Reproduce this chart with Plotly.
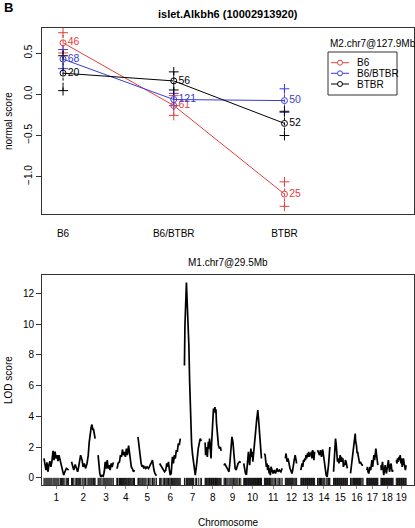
import plotly.graph_objects as go

# ---------------- top panel data (effect plot) ----------------
m1_genotypes = ["B6", "B6/BTBR", "BTBR"]          # x categories (M1.chr7@29.5Mb)
m2_genotypes = ["B6", "B6/BTBR", "BTBR"]          # groups (M2.chr7@127.9Mb)
mean_b6 = [0.625, -0.137, -1.213]
mean_het = [0.427, -0.064, -0.077]
mean_btbr = [0.256, 0.162, -0.354]
se_b6 = [0.123, 0.120, 0.149]
se_het = [0.116, 0.075, 0.143]
se_btbr = [0.212, 0.110, 0.147]
n_b6 = [46, 61, 25]
n_het = [68, 121, 50]
n_btbr = [20, 56, 52]
group_colors = ["#E5403B", "#3B3BD9", "#000000"]

# ---------------- bottom panel data (LOD scan) ----------------
chrom_names = [str(i) for i in range(1, 20)]
chrom_len = [100, 96, 64, 74, 76, 86, 72, 68, 68, 72, 72, 52, 56, 52, 56, 56, 46, 50, 40]
chrom_gap = 12

chr1_pos = [0, 4, 8, 12, 16, 20, 24, 28, 32, 37, 41, 45, 49, 53, 57, 61, 67, 71, 75, 80, 85, 91, 96, 100]
chr1_lod = [1.26, 0.93, 0.50, 1.00, 0.39, 0.82, 1.08, 0.71, 1.04, 1.75, 1.15, 1.70, 1.26, 1.47, 1.08, 1.47, 1.00, 0.71, 0.39, 0.17, 0.39, 0.61, 0.56, 0.50]
chr2_pos = [0, 4, 9, 15, 20, 25, 29, 33, 37, 43, 47, 52, 57, 63, 68, 72, 76, 80, 83, 87, 89, 93, 96]
chr2_lod = [1.04, 0.71, 0.50, 0.87, 0.61, 0.39, 0.71, 1.04, 1.47, 1.15, 0.71, 0.93, 0.61, 0.93, 1.47, 2.34, 3.10, 3.30, 3.46, 3.10, 3.20, 2.77, 2.55]
chr3_pos = [0, 3, 7, 11, 16, 21, 25, 29, 33, 37, 41, 45, 49, 53, 57, 62]
chr3_lod = [1.47, 0.93, 0.28, 0.06, 0.15, 0.10, 0.39, 1.04, 0.60, 1.15, 0.60, 0.82, 0.50, 0.93, 0.70, 1.00]
chr4_pos = [0, 3, 5, 11, 15, 19, 23, 27, 31, 35, 39, 43, 48, 51, 55, 59, 63, 68, 72]
chr4_lod = [0.60, 0.71, 0.93, 1.04, 1.47, 1.36, 1.84, 1.47, 1.69, 1.36, 1.90, 1.47, 2.10, 1.58, 1.04, 0.71, 0.60, 0.39, 0.50]
chr5_pos = [0, 3, 5, 9, 13, 17, 20, 24, 28, 32, 37, 43, 48, 53, 59, 61, 65, 69, 75]
chr5_lod = [2.66, 2.20, 1.69, 1.36, 0.93, 0.71, 0.82, 0.61, 0.71, 0.60, 0.71, 0.60, 0.82, 0.93, 1.15, 0.82, 0.50, 0.28, 0.13]
chr6_pos = [0, 4, 9, 15, 20, 25, 29, 33, 36, 39, 43, 47, 49, 52, 56, 60, 64, 68, 72, 76, 80, 84]
chr6_lod = [0.93, 0.82, 0.61, 0.50, 0.39, 0.50, 0.93, 0.71, 1.04, 0.61, 0.17, 0.28, 0.71, 1.36, 0.93, 1.47, 1.26, 1.80, 1.69, 2.23, 2.12, 2.55]
chr7_pos = [3, 5, 11, 15, 18, 21, 24, 28, 32, 36, 40, 47, 52, 59, 67, 72]
chr7_lod = [7.30, 9.90, 12.70, 10.90, 10.80, 8.60, 6.30, 3.50, 2.20, 1.50, 0.90, 0.17, 0.80, 1.90, 2.55, 2.40]
chr8_pos = [3, 5, 9, 12, 16, 19, 21, 24, 27, 29, 32, 35, 37, 40, 43, 45, 47, 49, 53, 57, 61, 65, 68]
chr8_lod = [2.30, 1.47, 2.00, 1.36, 2.34, 1.90, 2.55, 1.47, 1.26, 2.12, 3.00, 3.85, 4.50, 4.30, 4.60, 4.20, 4.45, 3.60, 2.55, 2.12, 1.90, 2.00, 1.75]
chr9_pos = [0, 3, 6, 9, 15, 20, 24, 28, 32, 36, 39, 41, 45, 49, 53, 57, 63, 68]
chr9_lod = [0.80, 0.93, 0.82, 0.71, 0.60, 0.39, 1.04, 2.34, 2.66, 2.34, 1.69, 1.04, 0.61, 0.50, 0.82, 0.93, 1.04, 1.00]
chr10_pos = [0, 3, 7, 11, 13, 16, 19, 21, 24, 27, 29, 32, 35, 37, 40, 43, 45, 48, 51, 53, 56, 57, 60, 63, 65, 68, 71, 72]
chr10_lod = [0.93, 0.61, 0.28, 0.20, 0.60, 1.15, 1.69, 1.26, 0.82, 1.47, 1.90, 1.36, 1.69, 1.04, 1.69, 1.90, 2.55, 3.00, 3.42, 3.85, 4.20, 4.40, 3.85, 3.00, 2.34, 2.00, 1.47, 1.25]
chr11_pos = [0, 3, 5, 8, 11, 13, 16, 19, 21, 24, 27, 31, 35, 40, 45, 51, 56, 61, 67, 72]
chr11_lod = [1.58, 1.47, 1.15, 0.71, 0.93, 0.50, 0.82, 0.28, 0.61, 0.17, 0.71, 0.39, 0.28, 0.50, 0.28, 0.61, 0.39, 0.50, 0.39, 0.61]
chr12_pos = [1, 4, 7, 9, 12, 15, 17, 20, 23, 25, 28, 31, 33, 37, 41, 44, 47]
chr12_lod = [1.26, 1.58, 1.15, 1.04, 1.26, 0.93, 0.82, 0.61, 0.50, 0.39, 0.28, 0.50, 0.82, 1.15, 1.47, 1.26, 0.93]
chr13_pos = [0, 3, 5, 8, 11, 13, 16, 19, 21, 24, 27, 29, 32, 35, 37, 40, 43, 45, 48, 51, 53, 56]
chr13_lod = [0.50, 0.82, 0.93, 0.71, 1.15, 1.04, 1.26, 1.15, 1.47, 1.26, 1.58, 1.36, 1.69, 1.36, 1.58, 1.47, 1.69, 1.26, 1.80, 1.58, 1.15, 1.69]
chr14_pos = [0, 3, 8, 12, 16, 21, 25, 29, 35, 39, 43, 45, 48, 50]
chr14_lod = [1.80, 1.69, 1.47, 1.80, 1.36, 1.84, 1.26, 0.71, 0.17, 0.06, 0.50, 0.90, 1.60, 2.00]
chr15_pos = [1, 4, 7, 9, 12, 15, 17, 20, 23, 25, 28, 31, 33, 36, 39, 41, 44, 47, 49, 52, 55, 57]
chr15_lod = [0.39, 1.04, 1.90, 2.55, 2.12, 1.36, 1.04, 1.26, 0.93, 1.15, 1.47, 1.04, 1.36, 1.04, 1.26, 0.71, 0.93, 0.82, 1.15, 1.04, 0.71, 0.61]
chr16_pos = [2, 5, 9, 13, 15, 18, 21, 23, 26, 29, 31, 34, 37, 39, 42, 45, 49, 53]
chr16_lod = [0.28, 0.71, 1.26, 1.90, 2.34, 2.55, 2.88, 2.34, 2.12, 1.58, 1.69, 1.36, 1.15, 0.93, 1.04, 0.93, 0.82, 0.82]
chr17_pos = [0, 3, 5, 8, 11, 13, 16, 19, 21, 24, 27, 29, 32, 35, 37, 40, 43, 45]
chr17_lod = [0.50, 0.71, 0.39, 0.28, 0.50, 0.71, 0.50, 0.93, 1.15, 0.71, 1.04, 1.47, 1.15, 1.58, 1.90, 1.47, 0.93, 0.82]
chr18_pos = [0, 1, 3, 6, 9, 11, 14, 17, 19, 22, 25, 27, 30, 33, 35, 38, 41, 43, 46, 49]
chr18_lod = [0.82, 0.50, 0.71, 1.04, 0.50, 0.17, 0.50, 0.82, 0.50, 0.28, 0.61, 0.82, 1.15, 0.61, 0.39, 0.82, 0.93, 0.61, 0.39, 0.50]
chr19_pos = [0, 3, 5, 8, 11, 13, 16, 19, 21, 24, 27, 29, 32, 35, 37, 40]
chr19_lod = [1.15, 0.93, 1.26, 1.04, 1.36, 1.15, 1.47, 0.93, 1.26, 0.71, 1.04, 1.26, 0.93, 0.61, 0.50, 0.82]

lod_tick_vals = [0, 2, 4, 6, 8, 10, 12]
eff_tick_vals = [-1.0, -0.5, 0.0, 0.5]
eff_tick_text = ["\u22121.0", "\u22120.5", "0.0", "0.5"]

# ---------------- layout geometry ----------------
W, H = 415, 528
ML, MR, MT, MB = 42, 1, 28, 43
PW, PH = W - ML - MR, H - MT - MB
FONT = "Liberation Sans, Arial, Helvetica, sans-serif"
AXC = "#333333"


def px_x(px):
    return (px - ML) / PW


def px_y(py):
    return (MT + PH - py) / PH


top_dom = [px_y(214), 1.0]
bot_dom = [0.0, px_y(275)]

fig = go.Figure()

# ---------------- top panel traces ----------------
means = [mean_b6, mean_het, mean_btbr]
ses = [se_b6, se_het, se_btbr]
counts = [n_b6, n_het, n_btbr]
for gi in range(3):
    col = group_colors[gi]
    ex, ey = [], []
    for c, mu, se in zip(m1_genotypes, means[gi], ses[gi]):
        ex += [c, c, None]
        ey += [mu - se, mu + se, None]
    fig.add_trace(go.Scatter(
        x=ex, y=ey, mode="lines+markers", xaxis="x", yaxis="y",
        line=dict(color=col, width=1, dash="3px,2px"),
        marker=dict(symbol="cross-thin", size=7, color=col, line=dict(color=col, width=1)),
        showlegend=False, hoverinfo="skip"))
for gi in range(3):
    col = group_colors[gi]
    fig.add_trace(go.Scatter(
        x=m1_genotypes, y=means[gi], mode="lines+markers+text", xaxis="x", yaxis="y",
        name=m2_genotypes[gi],
        text=[str(v) for v in counts[gi]], textposition="middle right",
        textfont=dict(color=col, size=10.5, family=FONT),
        line=dict(color=col, width=1),
        marker=dict(symbol="circle-open", size=6, color=col, line=dict(color=col, width=1)),
        showlegend=False, hoverinfo="skip"))

# ---------------- bottom panel traces ----------------
chr_pos = [chr1_pos, chr2_pos, chr3_pos, chr4_pos, chr5_pos, chr6_pos, chr7_pos, chr8_pos, chr9_pos,
           chr10_pos, chr11_pos, chr12_pos, chr13_pos, chr14_pos, chr15_pos, chr16_pos, chr17_pos,
           chr18_pos, chr19_pos]
chr_lod = [chr1_lod, chr2_lod, chr3_lod, chr4_lod, chr5_lod, chr6_lod, chr7_lod, chr8_lod, chr9_lod,
           chr10_lod, chr11_lod, chr12_lod, chr13_lod, chr14_lod, chr15_lod, chr16_lod, chr17_lod,
           chr18_lod, chr19_lod]

offsets = []
acc = 0
for L in chrom_len:
    offsets.append(acc)
    acc += L + chrom_gap
genome_end = offsets[-1] + chrom_len[-1]
centers = [o + L / 2 for o, L in zip(offsets, chrom_len)]

lx, ly, rug = [], [], []
for off, ps, ls in zip(offsets, chr_pos, chr_lod):
    lx += [off + p for p in ps] + [None]
    ly += ls + [None]
    rug += [off + p for p in ps]

fig.add_trace(go.Scatter(x=lx, y=ly, mode="lines", xaxis="x2", yaxis="y2",
                         line=dict(color="black", width=1.7), showlegend=False, hoverinfo="skip"))
fig.add_trace(go.Scatter(x=rug, y=[-0.28] * len(rug), mode="markers", xaxis="x2", yaxis="y2",
                         marker=dict(symbol="line-ns", size=6, color="#111", line=dict(color="#111", width=1)),
                         showlegend=False, hoverinfo="skip"))

axis_common = dict(showline=True, mirror=True, linecolor=AXC, linewidth=1, showgrid=False,
                   zeroline=False, tickfont=dict(size=10, family=FONT, color="black"))

span = genome_end
fig.update_layout(
    width=W, height=H, margin=dict(l=ML, r=MR, t=MT, b=MB),
    paper_bgcolor="white", plot_bgcolor="white",
    font=dict(family=FONT, color="black"),
    showlegend=False,
    xaxis=dict(axis_common, domain=[0, 1], anchor="y", type="category",
               categoryorder="array", categoryarray=m1_genotypes,
               range=[-0.19, 3.17], ticks="", ticklabelstandoff=10),
    yaxis=dict(axis_common, domain=top_dom, anchor="x", range=[-1.455, 0.805],
               tickvals=eff_tick_vals, ticktext=eff_tick_text, tickangle=-90,
               ticks="outside", ticklen=5, tickcolor=AXC),
    xaxis2=dict(axis_common, domain=[0, 1], anchor="y2",
                range=[-8, span + 32], tickvals=centers, ticktext=chrom_names,
                ticks="outside", ticklen=3, tickcolor="#888"),
    yaxis2=dict(axis_common, domain=bot_dom, anchor="x2", range=[-0.47, 13.19],
                tickvals=lod_tick_vals, ticks="outside", ticklen=5, tickcolor=AXC),
)

ann = []
ann.append(dict(text="<b>islet.Alkbh6 (10002913920)</b>", x=px_x(228), y=px_y(14),
                xref="paper", yref="paper", showarrow=False, xanchor="center", yanchor="middle",
                font=dict(size=11, family=FONT)))
ann.append(dict(text="<b>B</b>", x=px_x(2), y=px_y(8), xref="paper", yref="paper",
                showarrow=False, xanchor="left", yanchor="middle", font=dict(size=13, family=FONT)))
ann.append(dict(text="M1.chr7@29.5Mb", x=px_x(228), y=px_y(262), xref="paper", yref="paper",
                showarrow=False, xanchor="center", yanchor="middle", font=dict(size=10, family=FONT)))
ann.append(dict(text="Chromosome", x=px_x(228), y=px_y(522), xref="paper", yref="paper",
                showarrow=False, xanchor="center", yanchor="middle", font=dict(size=10, family=FONT)))
ann.append(dict(text="normal score", x=px_x(8), y=px_y(121), xref="paper", yref="paper",
                showarrow=False, xanchor="center", yanchor="middle", textangle=-90,
                font=dict(size=10, family=FONT)))
ann.append(dict(text="LOD score", x=px_x(8), y=px_y(380), xref="paper", yref="paper",
                showarrow=False, xanchor="center", yanchor="middle", textangle=-90,
                font=dict(size=10, family=FONT)))

# manual legend (R style)
LEG_X0, LEG_X1, LEG_Y0, LEG_Y1 = 328, 397, 52, 95
ann.append(dict(text="M2.chr7@127.9Mb", x=px_x(LEG_X0), y=px_y(43.5), xref="paper", yref="paper",
                showarrow=False, xanchor="left", yanchor="middle", font=dict(size=10, family=FONT)))
shapes = [dict(type="rect", xref="paper", yref="paper", x0=px_x(LEG_X0), x1=px_x(LEG_X1),
               y0=px_y(LEG_Y1), y1=px_y(LEG_Y0), line=dict(color=AXC, width=1), fillcolor="white",
               layer="below")]
row_y = [62.7, 73.3, 84.0]
for gi in range(3):
    col = group_colors[gi]
    yy = row_y[gi]
    shapes.append(dict(type="line", xref="paper", yref="paper", x0=px_x(331), x1=px_x(349),
                       y0=px_y(yy), y1=px_y(yy), line=dict(color=col, width=1)))
    shapes.append(dict(type="circle", xref="paper", yref="paper", x0=px_x(337.5), x1=px_x(342.5),
                       y0=px_y(yy + 2.5), y1=px_y(yy - 2.5), line=dict(color=col, width=1),
                       fillcolor="white"))
    ann.append(dict(text=m2_genotypes[gi], x=px_x(355), y=px_y(yy), xref="paper", yref="paper",
                    showarrow=False, xanchor="left", yanchor="middle",
                    font=dict(size=10, family=FONT, color="black")))

fig.update_layout(annotations=ann, shapes=shapes)
fig.write_html("out.html", config={"displayModeBar": False},
               post_script="document.body.style.margin='0';document.body.style.overflow='hidden';")
